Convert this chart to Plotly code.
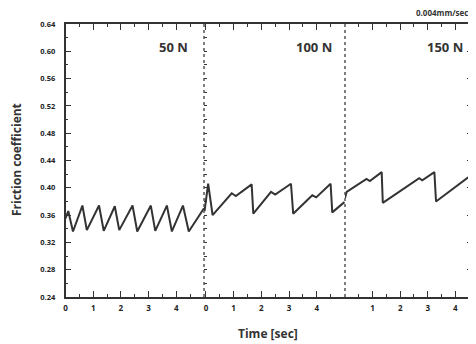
import plotly.graph_objects as go

# ---- data ----
t_50 = [0, 0.1, 0.27, 0.61, 0.77, 1.21, 1.38, 1.78, 1.94, 2.42, 2.59, 3.08, 3.24, 3.66, 3.84, 4.24, 4.45, 5.0]
mu_50 = [0.355, 0.366, 0.336, 0.374, 0.338, 0.374, 0.337, 0.373, 0.338, 0.374, 0.336, 0.374, 0.337, 0.374, 0.336, 0.374, 0.336, 0.370]

t_100 = [-0.05, 0.08, 0.24, 0.93, 1.08, 1.65, 1.71, 2.35, 2.5, 3.07, 3.15, 3.84, 3.98, 4.5, 4.56, 5.0]
mu_100 = [0.366, 0.406, 0.360, 0.392, 0.388, 0.405, 0.362, 0.394, 0.390, 0.406, 0.362, 0.389, 0.386, 0.406, 0.364, 0.379]

t_150 = [0, 0.06, 0.78, 0.9, 1.33, 1.37, 2.69, 2.8, 3.24, 3.3, 4.45, 4.7]
mu_150 = [0.385, 0.394, 0.413, 0.410, 0.423, 0.378, 0.414, 0.411, 0.423, 0.380, 0.415, 0.418]

panel_labels = ["50 N", "100 N", "150 N"]
speed_label = "0.004mm/sec"
y_ticks = [0.24, 0.28, 0.32, 0.36, 0.40, 0.44, 0.48, 0.52, 0.56, 0.60, 0.64]

FONT = "Open Sans"
LINE = "#333333"

# page body has an 8px margin; work in page pixels and convert
OFF = 8
W, H = 476 - OFF, 344 - OFF
PL, PR, PT, PB = 65, 476, 24, 297          # plot area in page pixels
ml, mr, mt, mb = PL - OFF, W - (PR - OFF), PT - OFF, H - (PB - OFF)
pw = PR - PL
ph = PB - PT

def px(x):
    return (x - PL) / pw

def py(y):
    return 1 - (y - PT) / ph

doms = [(px(65.5), px(204)), (px(204), px(345)), (px(345), px(473))]
ranges = [(0, 5.0), (-0.07, 5.02), (0, 4.64)]

fig = go.Figure()
series = [(t_50, mu_50), (t_100, mu_100), (t_150, mu_150)]
for i, (t, v) in enumerate(series):
    sfx = "" if i == 0 else str(i + 1)
    fig.add_trace(go.Scatter(x=t, y=v, mode="lines", xaxis="x" + sfx, yaxis="y" + sfx,
                             line=dict(color=LINE, width=2), showlegend=False,
                             hoverinfo="skip"))

for i in range(3):
    sfx = "" if i == 0 else str(i + 1)
    tickvals = [0, 1, 2, 3, 4] if i < 2 else [1, 2, 3, 4]
    fig.layout["xaxis" + sfx] = dict(
        domain=list(doms[i]), range=list(ranges[i]), anchor="y" + sfx,
        tickvals=tickvals, ticktext=[str(v) for v in tickvals],
        ticks="inside", ticklen=6, tickwidth=1, tickcolor="#333",
        minor=dict(ticks="inside", ticklen=3, tickvals=[0.5, 1.5, 2.5, 3.5, 4.5], tickcolor="#333"),
        showline=True, linecolor="#333", linewidth=1.5, mirror="ticks",
        showgrid=False, zeroline=False, ticklabelstandoff=3,
        tickfont=dict(family=FONT, size=8, color="#222", weight="bold"),
    )
    fig.layout["yaxis" + sfx] = dict(
        domain=[0, 1], range=[0.24, 0.64], anchor="x" + sfx,
        side="right" if i == 2 else "left",
        tickvals=y_ticks,
        ticktext=[f"{v:.2f}" for v in y_ticks],
        ticks="inside", ticklen=6 if i != 1 else 3, tickcolor="#333",
        minor=dict(ticks="inside", ticklen=3, dtick=0.02, tickcolor="#333"),
        showline=(i == 0), linecolor="#333", linewidth=1.5,
        showgrid=False, zeroline=False, showticklabels=(i == 0),
        ticklabelstandoff=7,
        tickfont=dict(family=FONT, size=7.5, color="#222", weight="bold"),
    )

shapes = []
for i in (1, 2):
    shapes.append(dict(type="line", xref="paper", yref="paper", x0=doms[i][0], x1=doms[i][0],
                       y0=0, y1=1, line=dict(color="#555", width=1.5, dash="dot")))
fig.update_layout(shapes=shapes)

ann = []
label_x = [190, 334, 465]
for lx, lab in zip(label_x, panel_labels):
    ann.append(dict(x=px(lx), y=py(47), xref="paper", yref="paper",
                    text=lab, showarrow=False, xanchor="right", yanchor="middle",
                    font=dict(family=FONT, size=13, color="#333", weight="bold")))
ann.append(dict(x=px(470), y=py(13), xref="paper", yref="paper",
                text=speed_label, showarrow=False, xanchor="right", yanchor="middle",
                font=dict(family=FONT, size=8, color="#333", weight="bold")))
ann.append(dict(x=px(268), y=py(333), xref="paper", yref="paper",
                text="Time [sec]", showarrow=False, xanchor="center", yanchor="middle",
                font=dict(family=FONT, size=12, color="#333", weight="bold")))
ann.append(dict(x=px(16), y=py(160), xref="paper", yref="paper",
                text="Friction coefficient", showarrow=False, textangle=-90,
                xanchor="center", yanchor="middle",
                font=dict(family=FONT, size=12, color="#333", weight="bold")))
fig.update_layout(annotations=ann)

fig.update_layout(width=W, height=H, margin=dict(l=ml, r=mr, t=mt, b=mb, pad=0),
                  paper_bgcolor="white", plot_bgcolor="white")

fig.write_html("out.html")
